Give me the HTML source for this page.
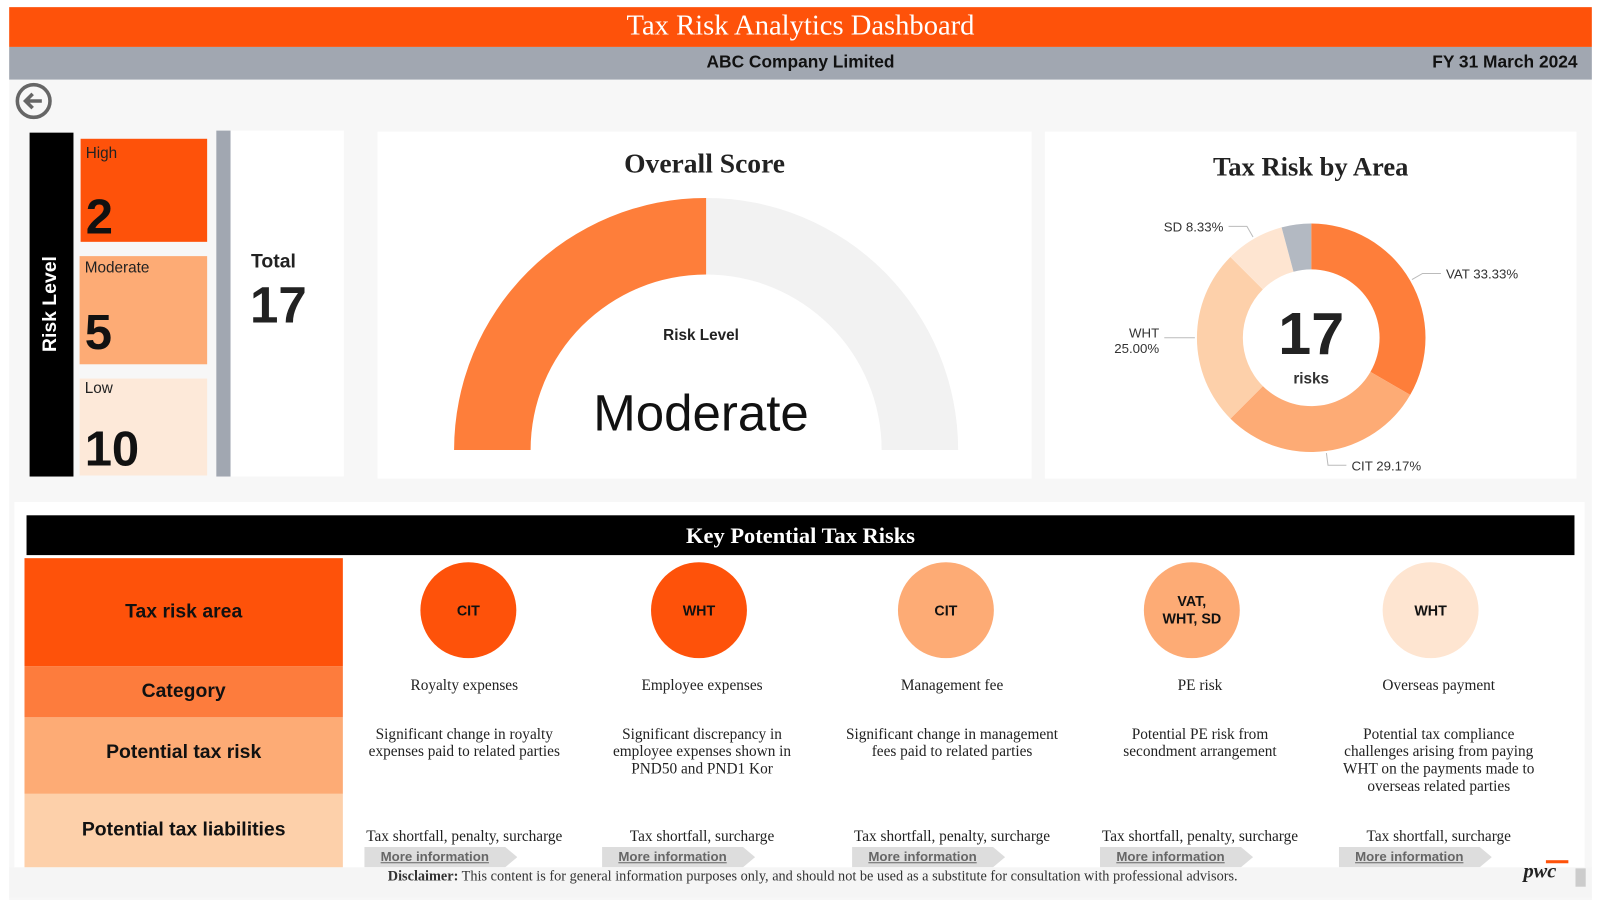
<!DOCTYPE html>
<html><head><meta charset="utf-8"><style>
*{box-sizing:border-box;margin:0;padding:0}
body{width:1600px;height:900px;background:#fff;font-family:"Liberation Sans",sans-serif;position:relative;overflow:hidden}
#wrap{position:absolute;left:0;top:0;width:1568px;height:882px;transform:scale(1.0204);transform-origin:0 0}
.abs{position:absolute}
.serif{font-family:"Liberation Serif",serif}
.ct{text-align:center}
</style></head><body>
<div id="wrap">
<div class="abs" style="left:9px;top:7px;width:1551px;height:875px;background:#f7f7f7"></div>
<div class="abs serif ct" style="left:9px;top:7px;width:1551px;height:39px;background:#fe520a;color:#fff;font-size:28px;line-height:37px">Tax Risk Analytics Dashboard</div>
<div class="abs" style="left:9px;top:46px;width:1551px;height:32px;background:#a1a7b1"></div>
<div class="abs ct" style="left:9px;top:46px;width:1551px;font-size:17px;font-weight:bold;line-height:30px;color:#111">ABC Company Limited</div>
<div class="abs" style="right:22px;top:46px;font-size:17px;font-weight:bold;line-height:30px;color:#111">FY 31 March 2024</div>
<svg class="abs" style="left:14px;top:81px" width="38" height="38"><circle cx="19" cy="18" r="16" fill="none" stroke="#666" stroke-width="3.5"/><path d="M27 18H12M18 11l-7 7 7 7" fill="none" stroke="#666" stroke-width="3.5"/></svg>

<div class="abs" style="left:29px;top:130px;width:43px;height:337px;background:#000"></div>
<div class="abs" style="left:50px;top:298px;transform:translate(-50%,-50%) rotate(-90deg);color:#fff;font-weight:bold;font-size:19px;white-space:nowrap">Risk Level</div>
<div class="abs" style="left:79px;top:136px;width:124px;height:101px;background:#fe520a"><div class="abs" style="left:5px;top:6px;font-size:15px;color:#222">High</div><div class="abs" style="left:5px;top:50px;font-size:48px;font-weight:bold;color:#111">2</div></div>
<div class="abs" style="left:78px;top:251px;width:125px;height:106px;background:#fdab75"><div class="abs" style="left:5px;top:3px;font-size:15px;color:#222">Moderate</div><div class="abs" style="left:5px;top:48px;font-size:48px;font-weight:bold;color:#111">5</div></div>
<div class="abs" style="left:78px;top:371px;width:125px;height:95px;background:#fde9d9"><div class="abs" style="left:5px;top:1px;font-size:15px;color:#222">Low</div><div class="abs" style="left:5px;top:42px;font-size:48px;font-weight:bold;color:#111">10</div></div>
<div class="abs" style="left:212px;top:128px;width:14px;height:339px;background:#a1a7b1"></div>
<div class="abs" style="left:226px;top:128px;width:111px;height:339px;background:#fff"><div class="abs" style="left:20px;top:118px;font-size:19px;font-weight:bold;color:#222">Total</div><div class="abs" style="left:19px;top:142px;font-size:50px;font-weight:bold;color:#222">17</div></div>

<div class="abs" style="left:370px;top:129px;width:641px;height:340px;background:#fff"></div>
<div class="abs serif ct" style="left:370px;top:145px;width:641px;font-size:27px;font-weight:bold;color:#222">Overall Score</div>
<svg class="abs" id="gauge" style="left:370px;top:129px" width="641" height="340"></svg>
<div class="abs ct" style="left:587px;top:320px;width:200px;font-size:15px;font-weight:bold;color:#222">Risk Level</div>
<div class="abs ct" style="left:537px;top:376px;width:300px;font-size:50px;color:#111">Moderate</div>

<div class="abs" style="left:1024px;top:129px;width:521px;height:340px;background:#fff"></div>
<div class="abs serif ct" style="left:1024px;top:149px;width:521px;font-size:26px;font-weight:bold;color:#222">Tax Risk by Area</div>
<svg class="abs" id="donut" style="left:1024px;top:129px;font-family:'Liberation Sans',sans-serif" width="521" height="340"></svg>

<div class="abs" style="left:14px;top:492px;width:1539px;height:360px;background:#fff"></div>
<div class="abs serif ct" style="left:26px;top:505px;width:1517px;height:39px;background:#000;color:#fff;font-size:22px;font-weight:bold;line-height:39px">Key Potential Tax Risks</div>
<div class="abs ct" style="left:24px;top:547px;width:312px;height:106px;background:#fe520a;font-size:19px;font-weight:bold;line-height:106px;color:#111">Tax risk area</div>
<div class="abs ct" style="left:24px;top:653px;width:312px;height:50px;background:#fd7c3d;font-size:19px;font-weight:bold;line-height:50px;color:#111">Category</div>
<div class="abs ct" style="left:24px;top:703px;width:312px;height:75px;background:#fdab75;font-size:19px;font-weight:bold;line-height:70px;color:#111">Potential tax risk</div>
<div class="abs ct" style="left:24px;top:778px;width:312px;height:72px;background:#fdd0aa;font-size:19px;font-weight:bold;line-height:72px;color:#111">Potential tax liabilities</div>
<div id="cols"></div>

<div class="abs" style="left:9px;top:850px;width:1551px;height:30px;background:#f5f5f5"></div>
<div class="abs serif" style="left:380px;top:852px;font-size:14px;color:#333;white-space:nowrap"><b>Disclaimer:</b> This content is for general information purposes only, and should not be used as a substitute for consultation with professional advisors.</div>
<div class="abs serif" style="left:1493px;top:843px;font-size:20px;font-weight:bold;font-style:italic;color:#222">pwc</div>
<div class="abs" style="left:1515px;top:843px;width:22px;height:3px;background:#fe520a"></div>
<div class="abs" style="left:1544px;top:851px;width:10px;height:18px;background:#ccc"></div>
</div>
<script>
// gauge data
const gaugeValue=[50];
const gaugeMax=[100];
// donut data
const areaLabels=['VAT','CIT','WHT','SD',''];
const areaValues=[33.33,29.17,25.00,8.33,4.17];
const areaColors=['#fe7e3a','#fdab75','#fdd0aa','#fee5d1','#b3b9c2'];
// risk columns
const riskAreas=['CIT','WHT','CIT','VAT,<br>WHT, SD','WHT'];
const riskLevels=['high','high','moderate','moderate','low'];
const categories=['Royalty expenses','Employee expenses','Management fee','PE risk','Overseas payment'];
const risks=['Significant change in royalty<br>expenses paid to related parties','Significant discrepancy in<br>employee expenses shown in<br>PND50 and PND1 Kor','Significant change in management<br>fees paid to related parties','Potential PE risk from<br>secondment arrangement','Potential tax compliance<br>challenges arising from paying<br>WHT on the payments made to<br>overseas related parties'];
const liabilities=['Tax shortfall, penalty, surcharge','Tax shortfall, surcharge','Tax shortfall, penalty, surcharge','Tax shortfall, penalty, surcharge','Tax shortfall, surcharge'];

const NS='http://www.w3.org/2000/svg';
function arc(cx,cy,r0,r1,a0,a1){
  const p=(r,a)=>[cx+r*Math.sin(a),cy-r*Math.cos(a)];
  const lg=(a1-a0)>Math.PI?1:0;
  const [x1,y1]=p(r1,a0),[x2,y2]=p(r1,a1),[x3,y3]=p(r0,a1),[x4,y4]=p(r0,a0);
  return `M${x1},${y1}A${r1},${r1} 0 ${lg} 1 ${x2},${y2}L${x3},${y3}A${r0},${r0} 0 ${lg} 0 ${x4},${y4}Z`;
}
const g=document.getElementById('gauge');
const gcx=322,gcy=312,gr0=172,gr1=247;
const frac=gaugeValue[0]/gaugeMax[0];
const bg=document.createElementNS(NS,'path');
bg.setAttribute('d',arc(gcx,gcy,gr0,gr1,-Math.PI/2+Math.PI*frac,Math.PI/2));
bg.setAttribute('fill','#f2f2f2');


g.appendChild(bg);
const fg=document.createElementNS(NS,'path');
fg.setAttribute('d',arc(gcx,gcy,gr0,gr1,-Math.PI/2,-Math.PI/2+Math.PI*frac));
fg.setAttribute('fill','#fe7e3a');


g.appendChild(fg);
const d=document.getElementById('donut');
const dcx=261,dcy=202,dr0=67,dr1=112;
const tot=areaValues.reduce((a,b)=>a+b,0);
let acc=0;
areaValues.forEach((v,i)=>{
  const a0=acc/tot*2*Math.PI; acc+=v; const a1=acc/tot*2*Math.PI;
  const p=document.createElementNS(NS,'path');
  p.setAttribute('d',arc(dcx,dcy,dr0,dr1,a0,a1));
  p.setAttribute('fill',areaColors[i]);
  
  
  d.appendChild(p);
  if(!areaLabels[i])return;
  const am=(a0+a1)/2, sx=Math.sin(am), cy=-Math.cos(am);
  const x1=dcx+(dr1+2)*sx, y1=dcy+(dr1+2)*cy;
  const right=sx>=0;
  const x2=dcx+(dr1+14)*sx, y2=dcy+(dr1+14)*cy;
  const x3=x2+(right?18:-18);
  const l=document.createElementNS(NS,'polyline');
  l.setAttribute('points',`${x1},${y1} ${x2},${y2} ${x3},${y2}`);
  l.setAttribute('fill','none');l.setAttribute('stroke','#bbb');
  
  
  d.appendChild(l);
  const t=document.createElementNS(NS,'text');
  t.setAttribute('x',x3+(right?5:-5));t.setAttribute('y',y2+5);
  t.setAttribute('font-size','13');t.setAttribute('fill','#333');
  t.setAttribute('text-anchor',right?'start':'end');
  const pct=(v/tot*100).toFixed(2)+'%';
  if(areaLabels[i]==='WHT'){
    t.setAttribute('y',y2);
    t.innerHTML=`<tspan x="${x3-5}" text-anchor="end">${areaLabels[i]}</tspan><tspan x="${x3-5}" dy="15" text-anchor="end">${pct}</tspan>`;
  } else t.textContent=areaLabels[i]+' '+pct;
  
  
  d.appendChild(t);
});
const ct=document.createElementNS(NS,'text');
ct.setAttribute('x',dcx);ct.setAttribute('y',dcy+16);ct.setAttribute('text-anchor','middle');
ct.setAttribute('font-size','58');ct.setAttribute('font-weight','bold');ct.setAttribute('fill','#222');
ct.textContent='17';


d.appendChild(ct);
const ct2=document.createElementNS(NS,'text');
ct2.setAttribute('x',dcx);ct2.setAttribute('y',dcy+45);ct2.setAttribute('text-anchor','middle');
ct2.setAttribute('font-size','15');ct2.setAttribute('font-weight','bold');ct2.setAttribute('fill','#333');
ct2.textContent='risks';


d.appendChild(ct2);
const colX=[455,688,933,1176,1410];
const circX=[459,685,927,1168,1402];
const lvlColor={high:'#fe520a',moderate:'#fdab75',low:'#fee5d1'};
const host=document.getElementById('cols');
riskAreas.forEach((a,i)=>{
  const c=document.createElement('div');
  c.className='abs';
  c.style.cssText=`left:${circX[i]-47}px;top:551px;width:94px;height:94px;border-radius:50%;background:${lvlColor[riskLevels[i]]};display:flex;align-items:center;justify-content:center;text-align:center;font-size:14px;font-weight:bold;color:#111;line-height:17px`;
  c.innerHTML=a;
  
  
  host.appendChild(c);
  const mk=(top,html,name)=>{const e=document.createElement('div');e.className='abs serif ct';
    e.style.cssText=`left:${colX[i]-130}px;top:${top}px;width:260px;font-size:15px;line-height:17px;color:#222`;
    e.innerHTML=html;
    
    
    host.appendChild(e);};
  mk(664,categories[i],'category-text');
  mk(712,risks[i],'potential-risk-text');
  mk(812,liabilities[i],'liability-text');
  const b=document.createElement('div');
  b.className='abs';
  b.style.cssText=`left:${colX[i]-98}px;top:830px;width:150px;height:20px;background:#ddd;clip-path:polygon(0 0,92% 0,100% 50%,92% 100%,0 100%);font-size:13px;font-weight:bold;color:#666;text-decoration:underline;padding-left:16px;line-height:20px`;
  b.textContent='More information';
  
  
  host.appendChild(b);
});
</script>
</body></html>
